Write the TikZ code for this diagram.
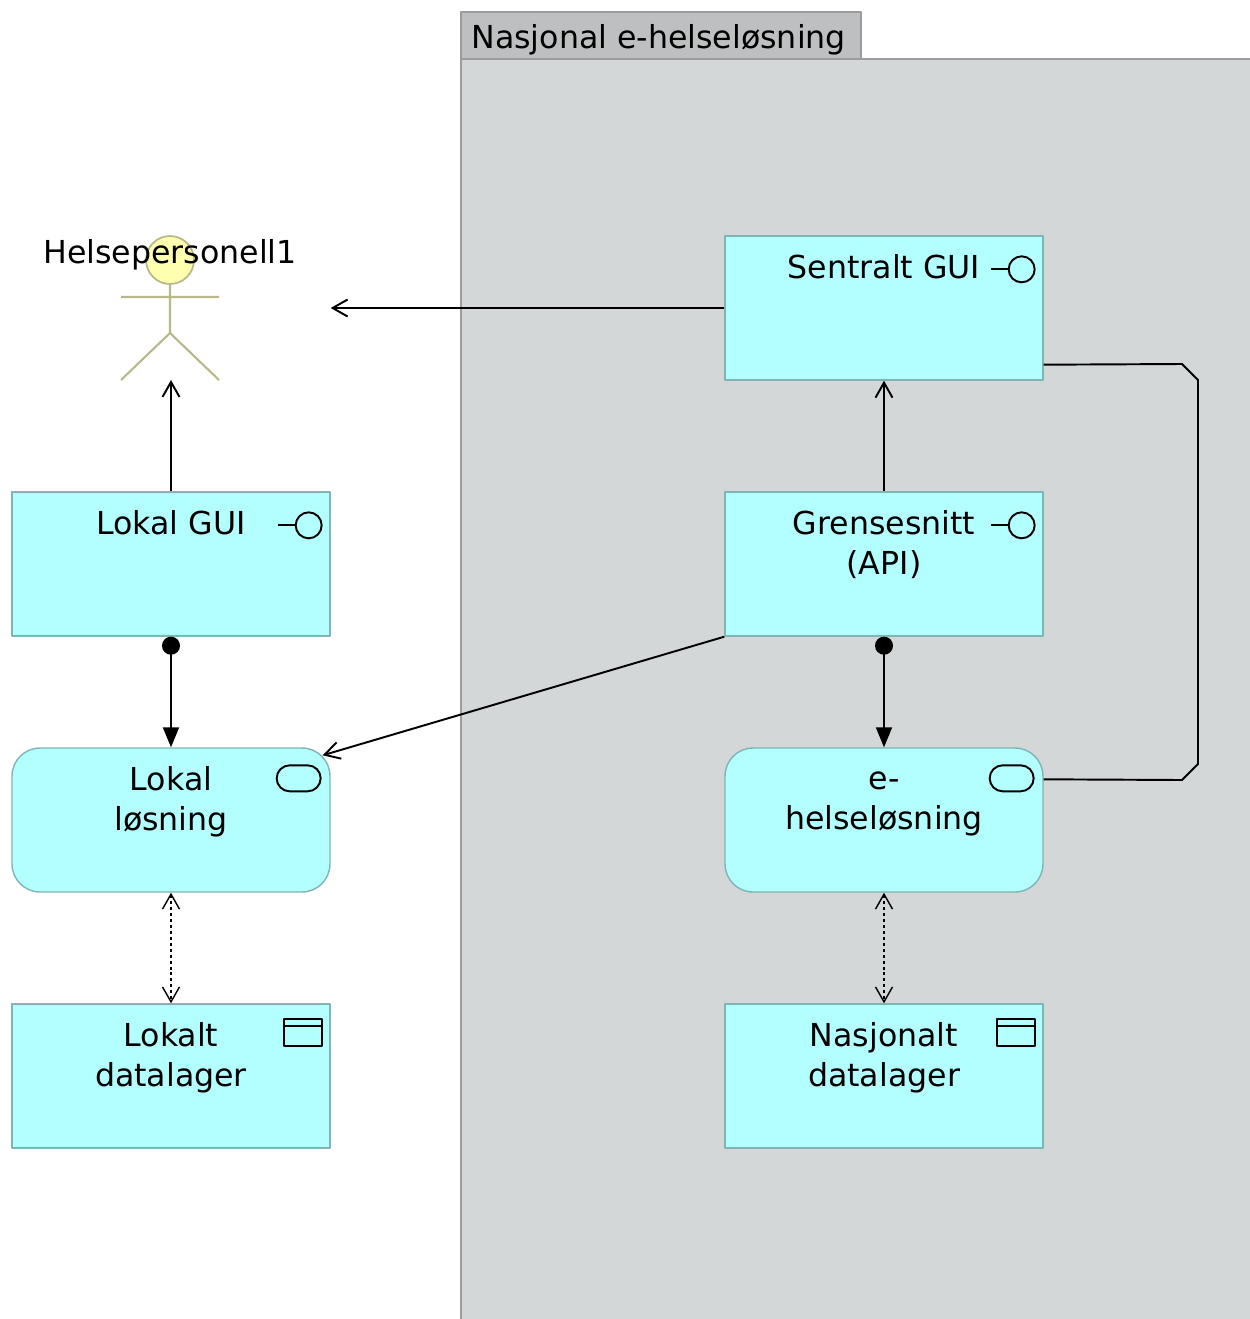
\documentclass[tikz,border=0pt]{standalone}
\usepackage{fontspec}
\setmainfont{DejaVu Sans}
\usetikzlibrary{arrows.meta,calc}
\definecolor{appfill}{HTML}{B3FFFF}
\definecolor{appline}{HTML}{7FB5B5}
\definecolor{grpfill}{HTML}{D3D7D8}
\definecolor{grptab}{HTML}{BDBFC0}
\definecolor{grpline}{HTML}{9A9C9D}
\definecolor{actfill}{HTML}{FFFFB0}
\definecolor{actline}{HTML}{B8B88A}
\tikzset{
  appbox/.style={draw=appline, fill=appfill, line width=0.8pt, minimum width=6.36cm, minimum height=2.88cm, inner sep=0pt},
  svcbox/.style={appbox, rounded corners=0.56cm},
  boxtext/.style={anchor=north, align=center, inner sep=0pt},
  icon/.style={line width=1.1pt, line cap=butt},
  serving/.style={->, line width=1.1pt},
  assignment/.style={{Circle[length=0.36cm]}-{Triangle[length=0.4cm,width=0.32cm]}, line width=1.1pt},
  access/.style={<->, line width=0.8pt, dash pattern=on 1.7pt off 1.7pt},
  association/.style={line width=1.1pt},
}
% ikoner i hjornet av boksene
\newcommand{\ifaceicon}[1]{%
  \draw[icon] ([shift={(-53,34)}]#1.north east) -- ([shift={(-35,34)}]#1.north east);
  \draw[icon] ([shift={(-22,34)}]#1.north east) circle (0.26cm);}
\newcommand{\svcicon}[1]{%
  \draw[icon, rounded corners=0.26cm] ([shift={(-54,18)}]#1.north east) rectangle ([shift={(-10,44)}]#1.north east);}
\newcommand{\dataicon}[1]{%
  \draw[icon] ([shift={(-47,16)}]#1.north east) rectangle ([shift={(-9,43)}]#1.north east);
  \draw[icon] ([shift={(-47,23)}]#1.north east) -- ([shift={(-9,23)}]#1.north east);}
\begin{document}
\begin{tikzpicture}[x=0.02cm, y=-0.02cm, >={Straight Barb[length=0.3cm,width=0.34cm]}, font=\fontsize{18}{22.7}\selectfont, line join=round]
\def\xl{171} \def\xr{884} % kolonner
\useasboundingbox (0,0) rectangle (1250,1319);
% gruppe
\draw[grpline, fill=grptab, line width=0.8pt] (461,12) rectangle (861,59);
\draw[grpline, fill=grpfill, line width=0.8pt] (461,59) rectangle (1252,1321);
\node[anchor=base west, inner sep=0pt] (grp) at (471,48) {Nasjonal e-helseløsning};
% aktor
\draw[actline, fill=actfill, line width=1pt] (170,260) circle (0.48cm);
\draw[actline, line width=1.2pt] (121,297) -- (219,297) (170,284) -- (170,333) (121,380) -- (170,333) -- (219,380);
\node[inner sep=0pt] (hp) at (170,255) {Helsepersonell1};
\coordinate (hpfeet) at (170,380);
% bokser
\node[appbox] (sgui) at (\xr,308) {};
\node[appbox] (api) at (\xr,564) {};
\node[svcbox] (ehl) at (\xr,820) {};
\node[appbox] (ndata) at (\xr,1076) {};
\node[appbox] (lgui) at (\xl,564) {};
\node[svcbox] (lls) at (\xl,820) {};
\node[appbox] (ldata) at (\xl,1076) {};
\node[boxtext] (sgui-t) at ([yshift=-0.38cm]sgui.north) {Sentralt GUI};
\node[boxtext] (api-t) at ([yshift=-0.38cm]api.north) {Grensesnitt\\(API)};
\node[boxtext] (ehl-t) at ([yshift=-0.38cm]ehl.north) {e-\vphantom{L}\\helseløsning};
\node[boxtext] (ndata-t) at ([yshift=-0.38cm]ndata.north) {Nasjonalt\\datalager};
\node[boxtext] (lgui-t) at ([yshift=-0.38cm]lgui.north) {Lokal GUI};
\node[boxtext] (lls-t) at ([yshift=-0.38cm]lls.north) {Lokal\\løsning};
\node[boxtext] (ldata-t) at ([yshift=-0.38cm]ldata.north) {Lokalt\\datalager};
\ifaceicon{sgui} \ifaceicon{api} \ifaceicon{lgui}
\svcicon{ehl} \svcicon{lls}
\dataicon{ndata} \dataicon{ldata}
% relasjoner
\draw[serving] (sgui.west) -- (sgui.west -| lgui.east);
\draw[serving] (api.north) -- (sgui.south);
\draw[serving] (lgui.north) -- (lgui.north |- hpfeet);
\draw[serving] (api.south west) -- ($(lls.north east)+(-8,8)$);
\draw[assignment] (lgui.south) -- (lls.north);
\draw[assignment] (api.south) -- (ehl.north);
\draw[access] (lls.south) -- (ldata.north);
\draw[access] (ehl.south) -- (ndata.north);
\draw[association] ([yshift=0.32cm]sgui.south east) -- (1182,364) -- (1198,380) -- (1198,764) -- (1182,780) -- ([yshift=-0.64cm]ehl.north east);
\end{tikzpicture}
\end{document}
